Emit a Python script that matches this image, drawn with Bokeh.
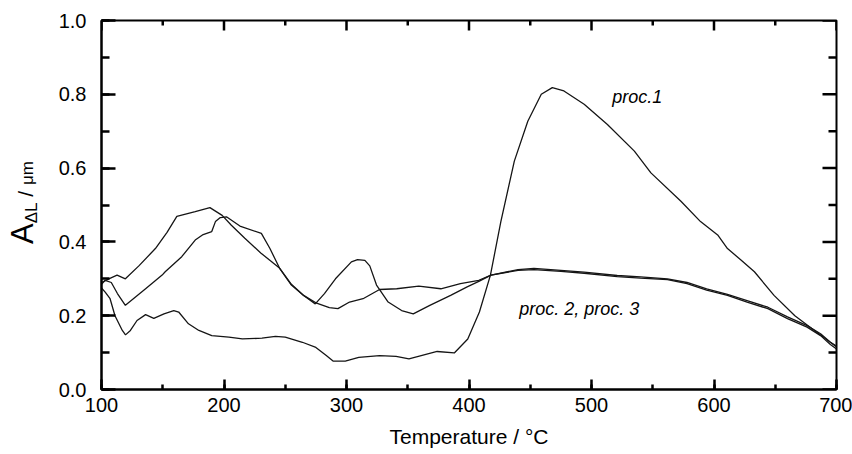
from bokeh.plotting import figure
from bokeh.models import Range1d, SingleIntervalTicker, PrintfTickFormatter, Label, Div
from bokeh.layouts import row
from bokeh.embed import file_html
from bokeh.resources import INLINE

# proc.1
t1 = [100, 103, 107, 111, 117, 119.6, 123.6, 129, 136, 142.7, 151, 159, 163, 171, 179.5, 190, 204, 215,
      231, 242, 250, 264, 275, 283.5, 289, 299, 310, 327, 340.5, 351, 374, 388, 399, 408.5, 417.5, 426,
      437, 448, 459, 468, 477.5, 494, 513, 535, 548.5, 573, 589, 603, 611, 622, 633, 649, 666, 682, 695, 700]
a1 = [0.275, 0.264, 0.246, 0.20, 0.16, 0.148, 0.16, 0.187, 0.203, 0.193, 0.205, 0.214, 0.21, 0.178, 0.16,
      0.146, 0.142, 0.137, 0.139, 0.144, 0.142, 0.128, 0.114, 0.092, 0.077, 0.077, 0.087, 0.092, 0.09, 0.083,
      0.103, 0.099, 0.137, 0.21, 0.31, 0.455, 0.619, 0.727, 0.80, 0.818, 0.809, 0.773, 0.718, 0.646, 0.587,
      0.51, 0.455, 0.419, 0.382, 0.351, 0.319, 0.255, 0.20, 0.16, 0.128, 0.118]

# proc.2
t2 = [100, 106, 112.7, 119.5, 130.5, 144, 153.5, 161.5, 176.5, 188.5, 198.5, 206, 217, 230, 245, 255, 265,
      274.5, 282, 291, 304, 309, 315, 319, 324.5, 334, 345, 354.5, 368, 385, 398.5, 408, 418, 440, 453, 475,
      494, 521, 540, 562, 578, 594, 611, 627, 644, 660, 676, 687, 695, 700]
a2 = [0.29, 0.30, 0.31, 0.30, 0.335, 0.382, 0.426, 0.469, 0.482, 0.493, 0.472, 0.445, 0.41, 0.37, 0.33,
      0.283, 0.255, 0.232, 0.26, 0.30, 0.346, 0.352, 0.350, 0.335, 0.283, 0.237, 0.214, 0.205, 0.228, 0.255,
      0.278, 0.293, 0.31, 0.323, 0.325, 0.32, 0.315, 0.306, 0.302, 0.298, 0.287, 0.269, 0.255, 0.237, 0.219,
      0.192, 0.169, 0.146, 0.122, 0.11]

# proc.3
t3 = [100, 103, 108, 113, 119.5, 130.5, 136, 149.5, 152, 165.5, 176.5, 183, 190, 193, 197, 202, 213, 230.5,
      237.5, 245.5, 255, 265, 275, 286, 293, 302.5, 313.5, 327, 341, 359, 377, 393, 408, 418, 440, 453, 475,
      494, 521, 540, 562, 578, 594, 611, 627, 644, 660, 676, 687, 695, 700]
a3 = [0.285, 0.296, 0.29, 0.26, 0.228, 0.258, 0.273, 0.31, 0.319, 0.36, 0.405, 0.42, 0.428, 0.455, 0.466,
      0.468, 0.443, 0.423, 0.382, 0.328, 0.285, 0.255, 0.235, 0.222, 0.219, 0.237, 0.246, 0.271, 0.273, 0.28,
      0.273, 0.287, 0.296, 0.31, 0.325, 0.328, 0.323, 0.318, 0.309, 0.305, 0.300, 0.290, 0.273, 0.258, 0.241,
      0.223, 0.197, 0.173, 0.151, 0.128, 0.115]

x_major = [100, 200, 300, 400, 500, 600, 700]
x_minor = [150, 250, 350, 450, 550, 650]
y_major = [0.0, 0.2, 0.4, 0.6, 0.8, 1.0]
y_minor = [0.1, 0.3, 0.5, 0.7, 0.9]

FONT = "Liberation Sans"
X0, X1, Y0, Y1 = 100, 700, 0.0, 1.0

p = figure(width=807, height=454, output_backend="svg", toolbar_location=None,
           x_range=Range1d(X0, X1), y_range=Range1d(Y0, Y1),
           min_border_left=56, min_border_right=16, min_border_top=20, min_border_bottom=65)
p.grid.visible = False
p.outline_line_color = "black"
p.outline_line_width = 2
p.background_fill_color = "white"
p.border_fill_color = "white"

for ax in (p.xaxis[0], p.yaxis[0]):
    ax.axis_line_width = 2
    ax.axis_line_color = "black"
    ax.major_tick_out = 0
    ax.minor_tick_out = 0
    ax.major_tick_line_width = 2.5
    ax.minor_tick_line_width = 2.5
    ax.major_label_text_font = FONT
    ax.major_label_text_font_size = "20px"
    ax.major_label_text_color = "black"

xa = p.xaxis[0]
xa.ticker = SingleIntervalTicker(interval=100, num_minor_ticks=2)
xa.major_tick_in = 10
xa.minor_tick_in = 5
xa.major_label_standoff = 8
xa.axis_label = "Temperature / °C"
xa.axis_label_text_font = FONT
xa.axis_label_text_font_size = "21px"
xa.axis_label_text_font_style = "normal"
xa.axis_label_text_color = "black"
xa.axis_label_standoff = 10

ya = p.yaxis[0]
ya.ticker = SingleIntervalTicker(interval=0.2, num_minor_ticks=2)
ya.major_tick_in = 14
ya.minor_tick_in = 8
ya.major_label_standoff = 15
ya.formatter = PrintfTickFormatter(format="%.1f")

# mirrored inward ticks on top and right edges
px_per_x = 735 / (X1 - X0)
px_per_y = 369 / (Y1 - Y0)
p.segment(x0=x_major, y0=[Y1] * len(x_major), x1=x_major, y1=[Y1 - 10 / px_per_y] * len(x_major),
          line_color="black", line_width=2.5)
p.segment(x0=x_minor, y0=[Y1] * len(x_minor), x1=x_minor, y1=[Y1 - 5 / px_per_y] * len(x_minor),
          line_color="black", line_width=2.5)
p.segment(x0=[X1] * len(y_major), y0=y_major, x1=[X1 - 14 / px_per_x] * len(y_major), y1=y_major,
          line_color="black", line_width=2.5)
p.segment(x0=[X1] * len(y_minor), y0=y_minor, x1=[X1 - 8 / px_per_x] * len(y_minor), y1=y_minor,
          line_color="black", line_width=2.5)

for t, a in ((t1, a1), (t2, a2), (t3, a3)):
    p.line(t, a, line_color="#151515", line_width=1.3)

p.add_layout(Label(x=517, y=0.765, text="proc.1", text_font=FONT, text_font_style="italic",
                   text_font_size="18px", text_color="black", text_align="left"))
p.add_layout(Label(x=441, y=0.19, text="proc. 2, proc. 3", text_font=FONT, text_font_style="italic",
                   text_font_size="18px", text_color="black", text_align="left"))

ylab = ('<div style="position:relative; width:45px; height:454px;">'
        '<div style="position:absolute; left:7px; top:244px; transform:rotate(-90deg); '
        'transform-origin:0 0; white-space:nowrap; font-family:\'Liberation Sans\'; color:black; '
        'line-height:1; font-size:31px;">'
        '<span style="font-size:31px">A</span>'
        '<span style="font-size:17px; position:relative; top:4px">ΔL</span>'
        '<span style="font-size:21px">&nbsp;/&nbsp;</span>'
        '<span style="font-size:17px">μm</span></div></div>')
div = Div(text=ylab, width=45, height=454, margin=0)

layout = row(div, p, spacing=0)
open("out.html", "w").write(file_html(layout, INLINE))
